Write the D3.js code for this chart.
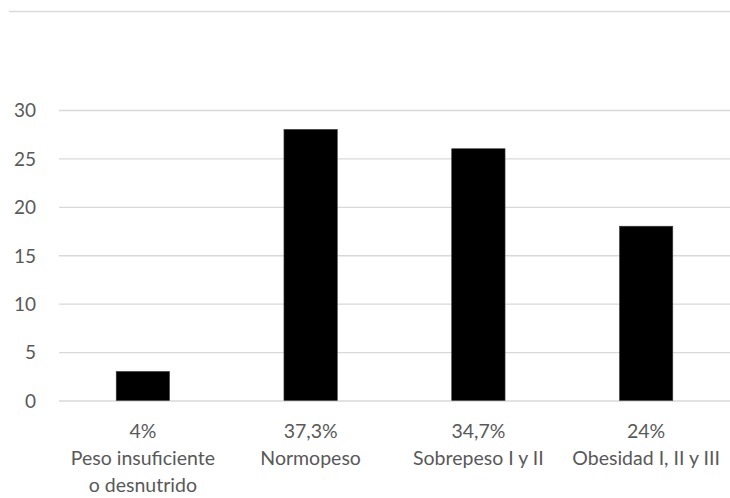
<!DOCTYPE html>
<html>
<head>
<meta charset="utf-8">
<script src="https://cdn.jsdelivr.net/npm/d3@7"></script>
<style>
  html, body { margin: 0; padding: 0; background: #fff; }
  svg { display: block; }
  text { font-family: Lato, "Open Sans", sans-serif; fill: #595959; }
</style>
</head>
<body>
<svg id="chart" width="730" height="498"></svg>
<script>
const categories = ["Peso insuficiente|o desnutrido", "Normopeso", "Sobrepeso I y II", "Obesidad I, II y III"];
const percentLabels = ["4%", "37,3%", "34,7%", "24%"];
const values = [3, 28, 26, 18];
const yTicks = [0, 5, 10, 15, 20, 25, 30];

const svg = d3.select("#chart");
const W = 730, H = 498;
const plot = { left: 59, right: 730, top: 110, bottom: 400.5 };

const x = d3.scaleBand().domain(categories).range([plot.left, plot.right]).padding(0);
const y = d3.scaleLinear().domain([0, 30]).range([plot.bottom, plot.top]);
const barW = x.bandwidth() * 0.318;

// top border line
svg.append("line")
  .attr("x1", 9).attr("x2", W).attr("y1", 11.5).attr("y2", 11.5)
  .attr("stroke", "#d9d9d9").attr("stroke-width", 1.3);

// gridlines via axis
const yAxis = d3.axisLeft(y).tickValues(yTicks).tickSize(-(plot.right - plot.left)).tickPadding(0);
const gy = svg.append("g").attr("transform", `translate(${plot.left},0)`).call(yAxis);
gy.select(".domain").remove();
gy.selectAll(".tick line").attr("stroke", "#d9d9d9").attr("stroke-width", 1.3);
gy.selectAll(".tick text")
  .attr("x", 36 - plot.left)
  .attr("text-anchor", "end")
  .attr("dy", "0.36em")
  .style("font-size", "19px")
  .style("fill", "#595959");

// bars
svg.append("g").selectAll("rect")
  .data(values)
  .join("rect")
  .attr("x", (d, i) => x(categories[i]) + x.bandwidth() / 2 - barW / 2)
  .attr("width", barW)
  .attr("y", d => y(d))
  .attr("height", d => y(0) - y(d))
  .attr("fill", "#000")
  .attr("stroke", "#404040")
  .attr("stroke-width", 0.6);

// category labels
const gx = svg.append("g");
categories.forEach((c, i) => {
  const cx = x(c) + x.bandwidth() / 2;
  const lines = [percentLabels[i]].concat(c.split("|"));
  const t = gx.append("text")
    .attr("x", cx)
    .attr("y", 438)
    .attr("text-anchor", "middle")
    .style("font-size", "19.5px");
  lines.forEach((l, k) => {
    t.append("tspan").attr("x", cx).attr("y", 438 + k * 27).text(l);
  });
});
</script>
</body>
</html>
